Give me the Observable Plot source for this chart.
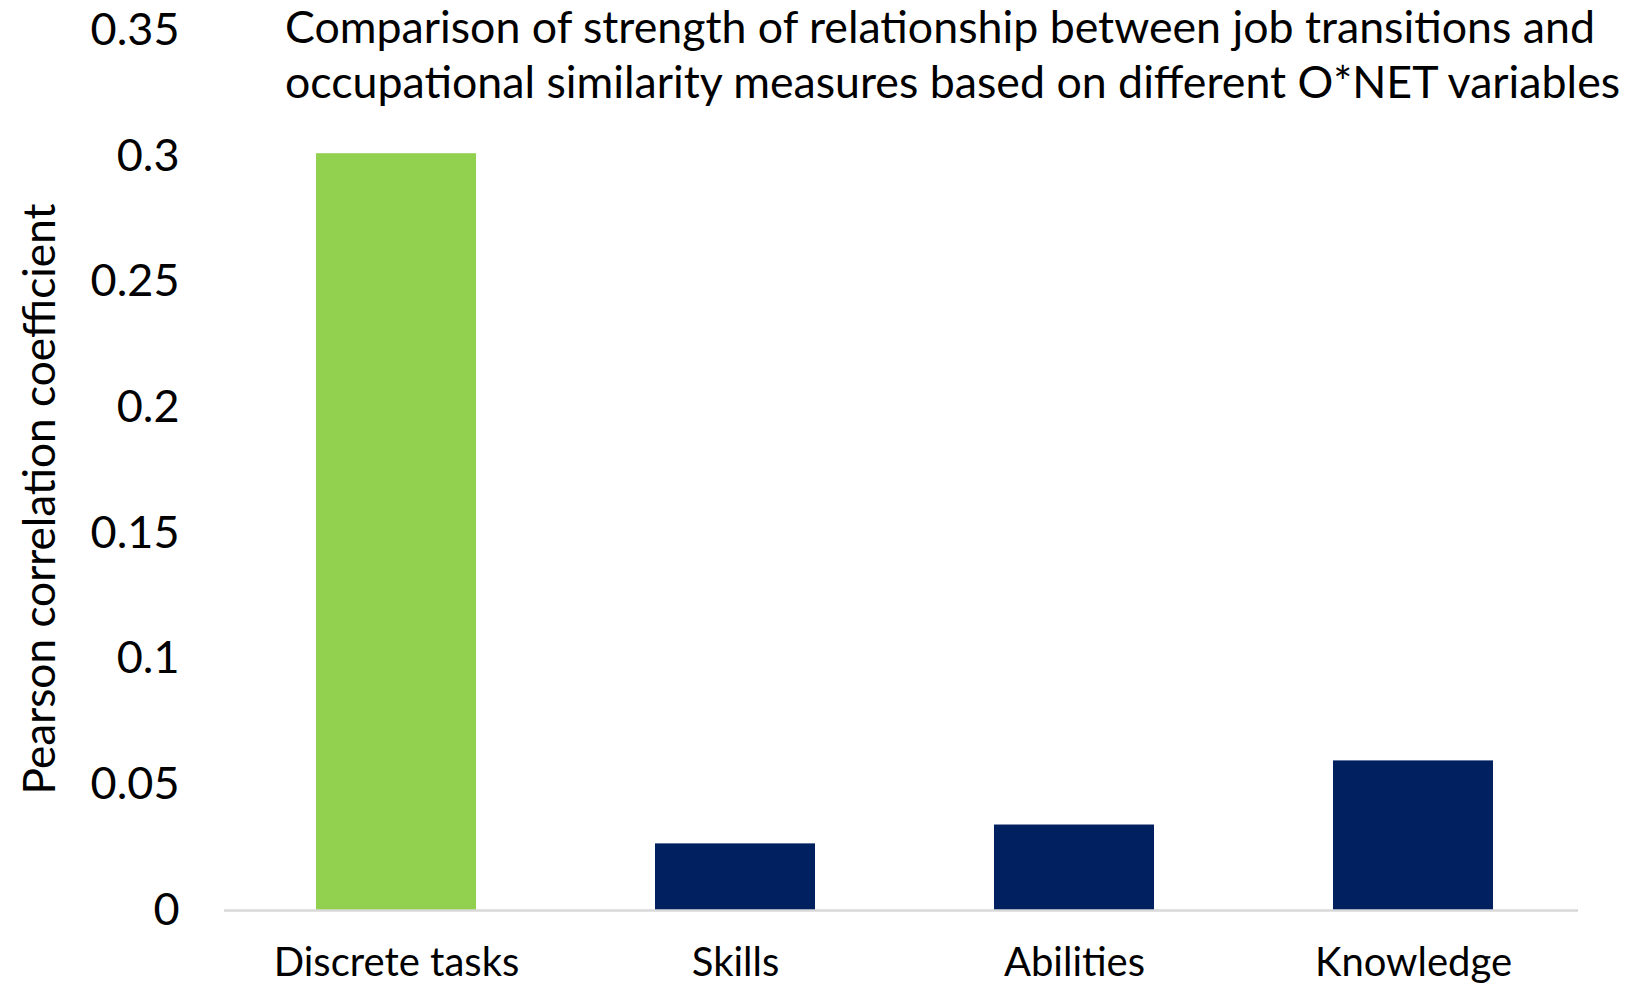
<!DOCTYPE html>
<html>
<head>
<meta charset="utf-8">
<script src="https://cdn.jsdelivr.net/npm/d3@7"></script>
<script src="https://cdn.jsdelivr.net/npm/@observablehq/plot@0.6"></script>
<style>
  html, body { margin: 0; padding: 0; background: #fff; }
  #wrap { position: relative; width: 1631px; height: 985px; overflow: hidden; font-family: Lato, "Open Sans", sans-serif; }
  #title { position: absolute; left: 285px; top: -1px; font-size: 44.7px; line-height: 55px; color: #000; white-space: nowrap; }
  #ylabel { position: absolute; left: 37px; top: 499px; font-size: 44.2px; color: #000; white-space: nowrap; transform: translate(-50%, -50%) rotate(-90deg); }
</style>
</head>
<body>
<div id="wrap">
  <div id="chart"></div>
  <div id="title">Comparison of strength of relationship between job transitions and<br>occupational similarity measures based on different O*NET variables</div>
  <div id="ylabel">Pearson correlation coefficient</div>
</div>
<script>
const categories = ["Discrete tasks", "Skills", "Abilities", "Knowledge"];
const values = [0.301, 0.0265, 0.034, 0.0595];
const barColors = ["#92D050", "#002060", "#002060", "#002060"];
const yTicks = [0, 0.05, 0.1, 0.15, 0.2, 0.25, 0.3, 0.35];

const data = categories.map((c, i) => ({category: c, value: values[i], color: barColors[i]}));

const chart = Plot.plot({
  width: 1631,
  height: 985,
  marginTop: 30,
  marginBottom: 75,
  marginLeft: 224,
  marginRight: 53,
  style: {fontFamily: "Lato, 'Open Sans', sans-serif", fontSize: "42px", color: "#000", background: "#fff"},
  x: {domain: categories, range: [224, 1585], paddingInner: 0.528, paddingOuter: 0.269, label: null},
  y: {domain: [0, 0.35], label: null},
  color: {type: "identity"},
  marks: [
    Plot.barY(data, {x: "category", y: "value", fill: "color"}),
    Plot.ruleY([0], {stroke: "#d9d9d9", strokeWidth: 2.5}),
    Plot.axisY({ticks: yTicks, tickSize: 0, tickPadding: 45, tickFormat: d => String(+d.toFixed(2)), label: null, fontSize: 45}),
    Plot.axisX({tickSize: 0, tickPadding: 37, label: null, fontSize: 40})
  ]
});
document.getElementById("chart").appendChild(chart);
</script>
</body>
</html>
